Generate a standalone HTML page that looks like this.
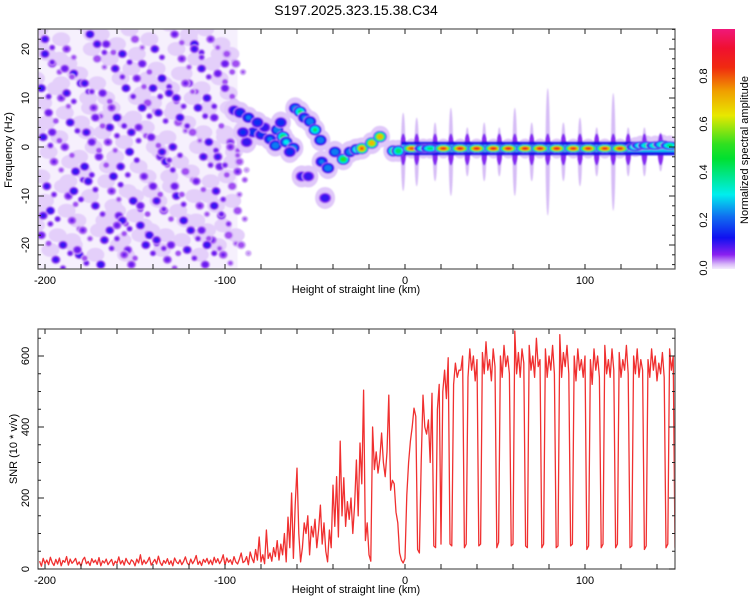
<!DOCTYPE html>
<html><head><meta charset="utf-8">
<style>
html,body{margin:0;padding:0;background:#fff;}
svg{display:block;font-family:"Liberation Sans",sans-serif;}
</style></head>
<body>
<svg id="fig" width="750" height="600" viewBox="0 0 750 600" xmlns="http://www.w3.org/2000/svg">
<defs>
<linearGradient id="cbgrad" x1="0" y1="1" x2="0" y2="0">
<stop offset="0" stop-color="#f4ecfd"/>
<stop offset="0.02" stop-color="#d8b8f8"/>
<stop offset="0.06" stop-color="#8a20f0"/>
<stop offset="0.13" stop-color="#1010f0"/>
<stop offset="0.22" stop-color="#1070f0"/>
<stop offset="0.31" stop-color="#00eeee"/>
<stop offset="0.46" stop-color="#00e030"/>
<stop offset="0.52" stop-color="#30e020"/>
<stop offset="0.64" stop-color="#e8e800"/>
<stop offset="0.74" stop-color="#f0a000"/>
<stop offset="0.84" stop-color="#f02a10"/>
<stop offset="0.92" stop-color="#f01030"/>
<stop offset="1" stop-color="#f0187a"/>
</linearGradient>
<clipPath id="clipTop"><rect x="38" y="29" width="637" height="240"/></clipPath>
<clipPath id="clipBot"><rect x="38" y="329" width="637" height="240"/></clipPath>
<filter id="soft" x="-5%" y="-5%" width="110%" height="110%"><feGaussianBlur stdDeviation="0.8"/></filter>
</defs>
<text x="356" y="15" font-size="14" text-anchor="middle" fill="#000">S197.2025.323.15.38.C34</text>
<g clip-path="url(#clipTop)"><g id="heat" filter="url(#soft)"></g></g>
<g id="snr" clip-path="url(#clipBot)"></g>
<g id="axes"></g>
<rect x="712" y="29" width="23" height="240" fill="url(#cbgrad)"/>
<text transform="translate(748,150) rotate(-90)" font-size="11" text-anchor="middle">Normalized spectral amplitude</text>
<text transform="translate(12,150) rotate(-90)" font-size="11" text-anchor="middle">Frequency (Hz)</text>
<text x="356" y="293" font-size="11" text-anchor="middle">Height of straight line (km)</text>
<text transform="translate(17,449) rotate(-90)" font-size="11" text-anchor="middle">SNR (10 * v/v)</text>
<text x="356" y="593" font-size="11" text-anchor="middle">Height of straight line (km)</text>
</svg>
<script>
// ---- data ----
const xTickLabels = [-200, -100, 0, 100];
const freqTickLabels = [-20, -10, 0, 10, 20];
const snrTickLabels = [0, 200, 400, 600];
const cbTickLabels = [0.0, 0.2, 0.4, 0.6, 0.8];
const snrStartKm = -203;
const snrValues = [
22,8,30,15,25,12,33,18,10,27, 14,31,9,24,19,35,11,28,16,22, 30,12,20,8,26,33,15,21,10,29,
18,25,13,32,9,23,17,28,12,20, 27,10,22,16,34,14,24,11,30,19, 13,26,21,9,28,17,40,12,25,15,
22,33,11,19,27,14,36,18,10,24, 16,29,13,23,9,31,20,15,26,12, 21,34,17,11,28,15,24,38,13,22,
10,27,19,30,14,25,12,33,18,29, 15,24,40,11,31,19,26,13,35,20, 14,28,45,18,
22,35,12,48,30,18,55,25,90,20,40,15,110,30,45,22,60,35,80,25,
70,40,100,20,146,60,214,30,180,284,100,20,60,130,
100,150,40,120,90,140,60,110,180,70,130,50,20,110,60,
236,120,260,90,360,150,257,120,190,140,200,100,180,307,150,
355,240,504,80,130,40,22,400,280,330,270,310,383,300,260,330,490,222,250,240,160,130,45,25,17,
30,208,300,360,400,453,430,55,45,300,490,400,380,420,300,495,65,60,450,520,70,500,560,480,595,70,65,520,580,540,560,
560,600,60,70,540,620,560,600,530,590,65,70,610,550,640,560,590,530,620,570,
60,75,600,540,630,570,600,550,65,70,670,550,610,540,620,580,65,60,630,560,
600,540,650,570,590,60,70,620,540,600,560,630,550,60,65,660,540,610,570,630,
550,65,70,600,530,620,560,590,540,600,55,65,590,520,620,560,600,540,60,70,
630,550,590,540,620,560,60,70,610,540,590,560,630,550,60,65,600,550,620,540,
590,560,55,65,590,540,620,560,600,530,580,550,610,540,60,70,620,560,600,60
];
// ridge blobs: km, freq, amplitude
const ridgeKm =   [-95,-91.7,-87,-84.4,-80,-75,-72,-71,-67.8,-66,-62,-61,-58.3,-56,-52.8,-50,-47,-46.3,-42.8,-38.9,-34.3,-30.6,-27,-24,-18.5,-13.9,-6.5,-3.7,3.7,10.2,13.9,21.3,30.6,39.8,49.1,57.4,66.7,75,84.3,93.5,101.8,111,119.4,128,131,134.5,139,143,147,-57.4,-53.7,-44.4,-78,-88,-82,-90,-69,-64];
const ridgeFreq = [7.5,7,6,3,2.5,1.6,0.3,3.5,2.1,1,-0.2,7.9,7.2,6,5.2,3.5,1.4,-3,-4.3,-1,-2.5,-1,-0.5,-0.3,0.8,2.1,-0.8,-0.8,-0.3,-0.3,-0.3,-0.3,-0.3,-0.3,-0.3,-0.3,-0.3,-0.3,-0.3,-0.3,-0.3,-0.3,-0.3,0,0.3,0.3,0.3,0.5,0.3,-6,-6,-10.4,4,1,5,3,5,-1];
const ridgeAmp =  [0.15,0.2,0.25,0.2,0.18,0.25,0.3,0.3,0.5,0.35,0.3,0.3,0.45,0.25,0.3,0.45,0.3,0.25,0.3,0.3,0.55,0.3,0.4,0.85,0.8,0.8,0.5,0.5,0.88,0.45,0.45,0.9,0.92,0.92,0.92,0.92,0.92,0.92,0.92,0.9,0.9,0.9,0.9,0.45,0.45,0.45,0.45,0.45,0.45,0.15,0.15,0.15,0.15,0.15,0.2,0.18,0.2,0.2];
// vertical streak positions between main-line blobs (km)
const streakKm = [-1,6.5,16.7,25.5,34.6,44,52.4,61,70.4,79.3,88,97.2,106.5,115.7,124,133,142];
const streakLen = [8,7,6,9,5,6,5,9,6,13,6,7,5,12,5,5,4];
// noise blobs in the low-SNR region: km, freq, amp
const noiseKm = [
-200,-188,-175,-166,-157,-150,-139,-128,-117,-108,-99,
-196,-184,-171,-161,-146,-135,-124,-113,-104,-94,-180,
-202,-191,-178,-168,-155,-143,-131,-120,-110,-100,-163,
-198,-186,-173,-160,-148,-137,-126,-115,-106,-95,-152,
-201,-189,-177,-165,-153,-141,-129,-118,-109,-97,-136,
-195,-183,-170,-158,-145,-133,-122,-112,-103,-92,-176,
-199,-187,-176,-163,-151,-140,-127,-116,-105,-96,-147,
-197,-185,-172,-159,-147,-134,-123,-114,-102,-93,-164,
-202,-190,-179,-167,-154,-142,-130,-119,-107,-98,-181,
-194,-182,-169,-156,-144,-132,-121,-111,-101,-91,-138,
-200,-188,-174,-162,-149,-138,-125,-113,-104,-95,-157,
-196,-184,-171,-160,-146,-135,-122,-110,-100,-93,-127,
-201,-189,-178,-164,-152,-140,-128,-117,-106,-97,-172];
const noiseFreq = [
22,20,23,21,19,22,20,23,21,22,19,
17,15,18,16,17,14,18,16,15,17,13,
12,10,13,11,12,9,11,13,10,12,8,
7,5,8,6,4,7,5,8,6,6,3,
2,0,3,1,-1,2,0,3,1,1,-2,
-3,-5,-2,-4,-6,-3,-5,-2,-4,-3,-7,
-8,-10,-7,-9,-11,-8,-10,-7,-9,-8,-12,
-13,-15,-12,-14,-16,-13,-15,-12,-14,-13,-17,
-18,-20,-17,-19,-21,-18,-20,-17,-19,-18,-22,
-23,-21,-24,-22,-20,-23,-21,-24,-22,-20,-19,
19,11,1,-6,14,-11,6,-17,-2,9,-15,
3,-9,21,-16,8,-1,13,-20,17,-5,10,
-14,16,-4,4,-24,12,-8,20,-12,0,6];
const noiseAmp = [
0.12,0.08,0.14,0.1,0.13,0.07,0.12,0.09,0.14,0.08,0.06,
0.09,0.13,0.07,0.12,0.1,0.14,0.08,0.12,0.1,0.07,0.13,
0.14,0.08,0.12,0.1,0.13,0.07,0.12,0.09,0.13,0.1,0.08,
0.1,0.13,0.08,0.14,0.09,0.12,0.07,0.13,0.1,0.08,0.12,
0.13,0.09,0.12,0.08,0.14,0.1,0.12,0.07,0.13,0.08,0.1,
0.08,0.14,0.1,0.12,0.09,0.13,0.07,0.12,0.1,0.06,0.13,
0.12,0.09,0.13,0.08,0.14,0.1,0.12,0.09,0.12,0.07,0.1,
0.14,0.08,0.12,0.1,0.13,0.09,0.14,0.08,0.11,0.07,0.12,
0.1,0.13,0.08,0.12,0.09,0.14,0.1,0.12,0.08,0.07,0.13,
0.12,0.1,0.14,0.08,0.13,0.09,0.12,0.1,0.08,0.06,0.12,
0.13,0.12,0.1,0.14,0.09,0.12,0.13,0.1,0.12,0.08,0.13,
0.1,0.14,0.12,0.09,0.13,0.12,0.08,0.14,0.1,0.08,0.12,
0.12,0.1,0.14,0.12,0.09,0.13,0.1,0.12,0.14,0.08,0.1];

// ---- scales ----
const X = km => 405 + 1.8 * km;
const YF = f => 147 - 4.9 * f;
const YS = v => 569 - 0.355 * v;
const YC = a => 268 - 240 * a;
const NS = 'http://www.w3.org/2000/svg';
function mk(tag, attrs, parent){ const e = document.createElementNS(NS, tag); for (const k in attrs) e.setAttribute(k, attrs[k]); parent.appendChild(e); return e; }

const stops = [[0,[244,236,253]],[0.02,[216,184,248]],[0.06,[138,32,240]],[0.13,[16,16,240]],[0.22,[16,112,240]],[0.31,[0,238,238]],[0.46,[0,224,48]],[0.52,[48,224,32]],[0.64,[232,232,0]],[0.74,[240,160,0]],[0.84,[240,42,16]],[0.92,[240,16,48]],[1,[240,24,122]]];
function col(a){ a=Math.max(0,Math.min(1,a)); for(let i=1;i<stops.length;i++){ if(a<=stops[i][0]){ const [a0,c0]=stops[i-1],[a1,c1]=stops[i]; const t=(a-a0)/(a1-a0); return 'rgb('+c0.map((c,j)=>Math.round(c+(c1[j]-c)*t)).join(',')+')'; } } return 'rgb(240,24,122)'; }

const heat = document.getElementById('heat');
const haze = mk('rect', {x: X(-204), y: 29, width: X(-93)-X(-204), height: 240, fill: '#f6f0fd'}, heat);



const levels = [0.015,0.04,0.07,0.1,0.15,0.22,0.3,0.4,0.5,0.6,0.7,0.8,0.88];
function blob(km, f, amp, rx0, ry0, name){
  const g = mk('g', {}, heat);
  
  
  for (const L of levels){
    if (L >= amp) break;
    const s = Math.sqrt(1 - L / amp);
    mk('ellipse', {cx: X(km), cy: YF(f), rx: Math.max(0.8, rx0 * s), ry: Math.max(0.8, ry0 * s), fill: col(L + 0.008)}, g);
  }
}
function patch(km, f, rx, ry, fill, name){
  const e = mk('ellipse', {cx: X(km), cy: YF(f), rx: rx, ry: ry, fill: fill}, heat);
  
  
}
for (let i = 0; i < noiseKm.length; i++){
  patch(noiseKm[i] - 3, noiseFreq[i] + 2, 9, 7, '#e4cffa', 'noise-patch');
}
for (let i = 0; i < noiseKm.length; i++){
  blob(noiseKm[i], noiseFreq[i], noiseAmp[i], 5.5, 5, 'noise-blob');
  blob(noiseKm[i] + 4, noiseFreq[i] - 1.7, noiseAmp[i] * 0.7, 4, 3.8, 'noise-blob');
}
for (let i = 0; i < ridgeKm.length; i++){
  patch(ridgeKm[i], ridgeFreq[i], ridgeKm[i] > 0 ? 8 : 10, ridgeKm[i] > 0 ? 10 : 11, '#e0c8f9', 'ridge-halo');
}
for (let i = 0; i < streakKm.length; i++){
  patch(streakKm[i], -1, 2.2, streakLen[i] * 4.9, '#d6bcf6', 'gap-streak');
  patch(streakKm[i], -0.5, 3, 16, '#8428f0', 'gap-streak-core');
}
const band = mk('rect', {x: X(-2), y: YF(1.1), width: X(150) - X(-2), height: YF(-1.7) - YF(1.1), fill: '#1818e8'}, heat);


const band2 = mk('rect', {x: X(-2), y: YF(0.4), width: X(150) - X(-2), height: YF(-1.0) - YF(0.4), fill: '#10c8f0'}, heat);


for (let i = 0; i < ridgeKm.length; i++){
  const big = ridgeKm[i] > 0;
  blob(ridgeKm[i], ridgeFreq[i], ridgeAmp[i], big ? 9.5 : 7, big ? 4.5 : 6, 'ridge-blob');
}

// SNR line
const snrG = document.getElementById('snr');
let d = '';
for (let i = 0; i < snrValues.length; i++){
  d += (i ? 'L' : 'M') + X(snrStartKm + i).toFixed(1) + ' ' + YS(snrValues[i]).toFixed(1);
}
const line = mk('path', {d: d, fill: 'none', stroke: '#f03030', 'stroke-width': 1.3, 'stroke-linejoin': 'round'}, snrG);



// axes
const ax = document.getElementById('axes');
function frame(y0, name){
  const r = mk('rect', {x: 38, y: y0, width: 637, height: 240, fill: 'none', stroke: '#555', 'stroke-width': 1.2}, ax);
  
  
}
frame(29, 'top-plot-frame');
frame(329, 'bottom-plot-frame');
function tickLine(x1,y1,x2,y2){ const t = mk('line', {x1:x1,y1:y1,x2:x2,y2:y2,stroke:'#222','stroke-width':1}, ax);   }
function label(x,y,txt,rot,name){
  const t = mk('text', rot ? {transform:'translate('+x+','+y+') rotate(-90)', 'font-size':11, 'text-anchor':'middle'} : {x:x,y:y,'font-size':11,'text-anchor':'middle'}, ax);
  t.textContent = txt;
  
  
}
for (const y0 of [29, 329]){
  for (let km = -200; km <= 150; km += 20){ const x = X(km); if (x < 38 || x > 675) continue; tickLine(x, y0+240, x, y0+235); tickLine(x, y0, x, y0+5); }
}
for (const v of xTickLabels){ label(X(v), 284, String(v), false, 'top-x-tick-label'); label(X(v), 584, String(v), false, 'bottom-x-tick-label'); }
for (let f = -24; f <= 24; f += 2){ const y = YF(f); if (y < 29 || y > 269) continue; const len = f % 10 === 0 ? 6 : 3; tickLine(38, y, 38+len, y); tickLine(675, y, 675-len, y); }
for (const v of freqTickLabels){ label(29, YF(v), String(v), true, 'freq-tick-label'); }
for (let v = 0; v <= 650; v += 50){ const y = YS(v); const len = v % 200 === 0 ? 6 : 3; tickLine(38, y, 38+len, y); tickLine(675, y, 675-len, y); }
for (const v of snrTickLabels){ label(29, YS(v), String(v), true, 'snr-tick-label'); }
for (const v of cbTickLabels){ label(707, YC(v), v.toFixed(1), true, 'colorbar-tick-label'); }
</script>
</body></html>
